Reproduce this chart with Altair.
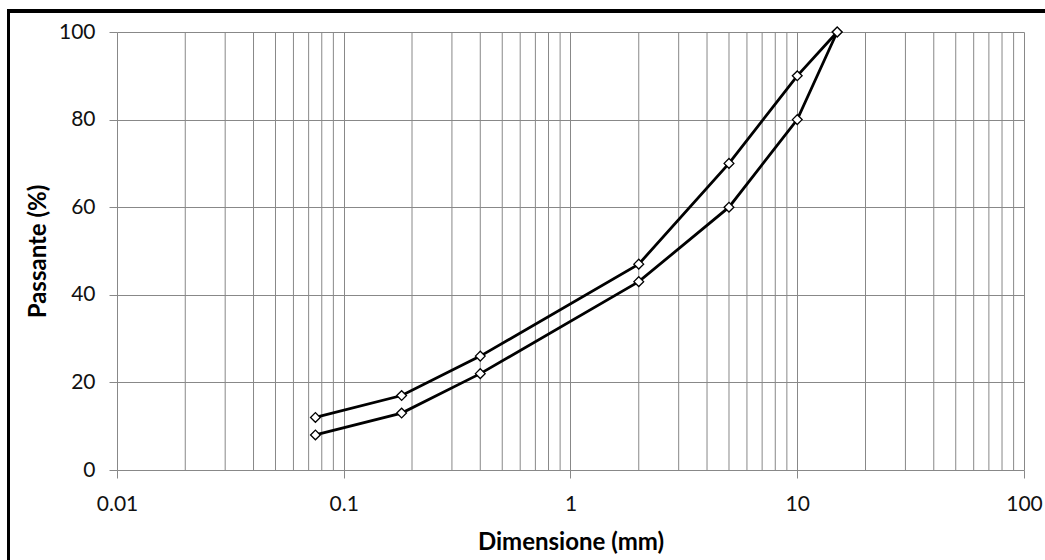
import altair as alt
import pandas as pd

sizes = [0.075, 0.18, 0.4, 2, 5, 10, 15]
upper = [12, 17, 26, 47, 70, 90, 100]
lower = [8, 13, 22, 43, 60, 80, 100]
decades = [0.01, 0.1, 1, 10, 100]
minor_grid = [m * d for d in [0.01, 0.1, 1, 10] for m in range(2, 10)]
y_ticks = [0, 20, 40, 60, 80, 100]

rows = []
for s, v in zip(sizes, upper):
    rows.append({"serie": "A", "d": s, "p": v})
for s, v in zip(sizes, lower):
    rows.append({"serie": "B", "d": s, "p": v})
df = pd.DataFrame(rows)
grid_df = pd.DataFrame({"g": minor_grid})

GRID = "#888888"
FONT = "Lato"

xscale = alt.Scale(type="log", domain=[0.01, 100], nice=False)
yscale = alt.Scale(domain=[0, 100], nice=False)

xaxis = alt.Axis(values=decades, grid=True, gridColor=GRID, gridWidth=1,
                 domain=False, ticks=True, tickSize=8, tickColor=GRID,
                 labelFontSize=21, labelFont=FONT, labelColor="#111",
                 labelPadding=15, labelFlush=False, labelOverlap=False,
                 labelExpr="format(datum.value, '')",
                 title="Dimensione (mm)", titleFont=FONT, titleFontSize=24,
                 titleFontWeight="bold", titleColor="#000", titlePadding=16)
yaxis = alt.Axis(values=y_ticks, grid=True, gridColor=GRID, gridWidth=1,
                 domain=False, ticks=True, tickSize=8, tickColor=GRID,
                 labelFontSize=21, labelFont=FONT, labelColor="#111",
                 labelPadding=14, labelFlush=False,
                 title="Passante (%)", titleFont=FONT, titleFontSize=24,
                 titleFontWeight="bold", titleColor="#000", titlePadding=8)

minor = alt.Chart(grid_df).mark_rule(color=GRID, strokeWidth=1).encode(
    x=alt.X("g:Q", scale=xscale, axis=xaxis)
)

base = alt.Chart(df).encode(
    x=alt.X("d:Q", scale=xscale, axis=xaxis),
    y=alt.Y("p:Q", scale=yscale, axis=yaxis),
    detail="serie:N",
)
lines = base.mark_line(color="black", strokeWidth=2.8)
pts = base.mark_point(shape="diamond", filled=True, fill="white", stroke="black",
                      strokeWidth=1.3, size=95, opacity=1)

border_left = alt.Chart(grid_df).mark_rule(color="black", strokeWidth=3).encode(
    x=alt.value(-108.5), y=alt.value(-21), y2=alt.value(560)
)
border_top = alt.Chart(grid_df).mark_rule(color="black", strokeWidth=3).encode(
    x=alt.value(-110), x2=alt.value(1000), y=alt.value(-21)
)

chart = alt.layer(minor, lines, pts, border_left, border_top).properties(
    width=907, height=438,
    autosize=alt.AutoSizeParams(type="none"),
    padding={"left": 117, "top": 32, "right": 21, "bottom": 90},
    background="white",
).configure_view(stroke=None)

chart.save("out.html", embed_options={"renderer": "svg", "actions": False})
